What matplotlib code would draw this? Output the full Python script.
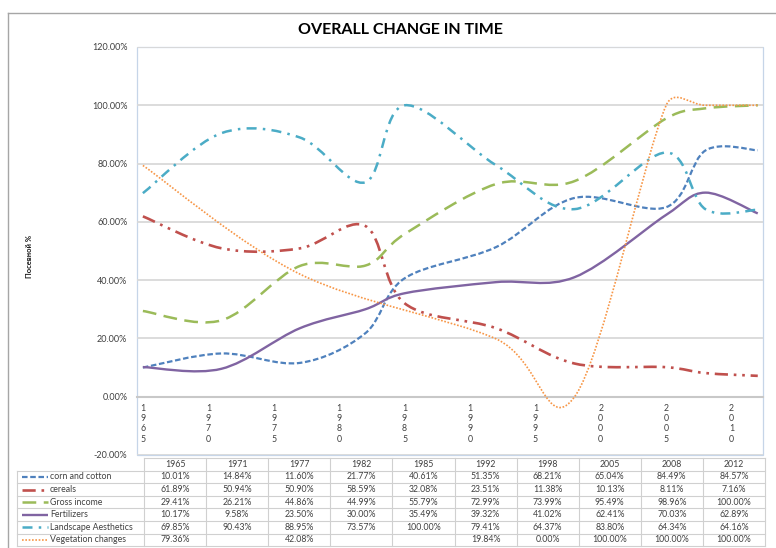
import numpy as np
import matplotlib
matplotlib.use('Agg')
import matplotlib.pyplot as plt
from matplotlib.path import Path
from matplotlib.patches import PathPatch, Rectangle
from matplotlib.lines import Line2D
from matplotlib.ticker import FuncFormatter

plt.rcParams['font.family'] = ['Lato', 'DejaVu Sans']

# ---------------- data ----------------
years = [1965, 1971, 1977, 1982, 1985, 1992, 1998, 2005, 2008, 2012]
corn_and_cotton = [10.01, 14.84, 11.60, 21.77, 40.61, 51.35, 68.21, 65.04, 84.49, 84.57]
cereals = [61.89, 50.94, 50.90, 58.59, 32.08, 23.51, 11.38, 10.13, 8.11, 7.16]
gross_income = [29.41, 26.21, 44.86, 44.99, 55.79, 72.99, 73.99, 95.49, 98.96, 100.00]
fertilizers = [10.17, 9.58, 23.50, 30.00, 35.49, 39.32, 41.02, 62.41, 70.03, 62.89]
landscape_aesthetics = [69.85, 90.43, 88.95, 73.57, 100.00, 79.41, 64.37, 83.80, 64.34, 64.16]
vegetation_changes = [79.36, None, 42.08, None, None, 19.84, 0.00, 100.00, 100.00, 100.00]

series_names = ["corn and cotton", "cereals", "Gross income", "Fertilizers",
                "Landscape Aesthetics", "Vegetation changes"]
series_values = [corn_and_cotton, cereals, gross_income, fertilizers,
                 landscape_aesthetics, vegetation_changes]

axis_tick_years = [1965, 1970, 1975, 1980, 1985, 1990, 1995, 2000, 2005, 2010]
y_ticks = [-20, 0, 20, 40, 60, 80, 100, 120]

title = "OVERALL CHANGE IN TIME"
y_label = "Посевной %"

# ---------------- styles ----------------
styles = [
    dict(color="#4F81BD", lw=1.6, ls=(0, (2.5, 1.2))),
    dict(color="#C0504D", lw=1.9, ls=(0, (5, 2.2, 1, 2.2, 1, 2.2))),
    dict(color="#9BBB59", lw=1.8, ls=(0, (5.5, 3))),
    dict(color="#8064A2", lw=1.7, ls="-"),
    dict(color="#4BACC6", lw=1.8, ls=(0, (4, 2.5, 1, 2.5))),
    dict(color="#F79646", lw=1.2, ls=(0, (1, 1))),
]

W, H = 776, 548
fig = plt.figure(figsize=(W / 100, H / 100), dpi=100)

# plot area in pixels
PL, PR, PT, PB = 137, 763, 47, 455
ax = fig.add_axes([PL / W, 1 - PB / H, (PR - PL) / W, (PB - PT) / H])
ax.set_xlim(1964.55, 2012.4)
ax.set_ylim(-20, 120)
ax.set_yticks(y_ticks)
ax.yaxis.set_major_formatter(FuncFormatter(lambda v, p: f"{v:.2f}%"))
ax.set_xticks(axis_tick_years)
ax.set_xticklabels(["\n".join(str(y)) for y in axis_tick_years])
ax.tick_params(axis="both", length=0)
ax.tick_params(axis="y", labelsize=6.5, labelcolor="#404040", pad=7)
ax.tick_params(axis="x", labelsize=6.3, labelcolor="#404040", pad=5)
for lab in ax.get_xticklabels():
    lab.set_linespacing(1.3)
ax.grid(axis="y", color="#D9D9D9", lw=1.3)
ax.set_axisbelow(True)
for s in ["left", "right", "top"]:
    ax.spines[s].set_visible(False)
ax.spines["bottom"].set_position(("data", 0))
ax.spines["bottom"].set_color("#C8C8C8")
ax.spines["bottom"].set_linewidth(1.5)
ax.add_patch(Rectangle((0, 0), 1, 1, transform=ax.transAxes, fill=False,
                       ec="#C6D5E8", lw=0.9, clip_on=False, zorder=0.5))


def excel_smooth_path(ax, xs, ys):
    pts = np.array([(x, y) for x, y in zip(xs, ys) if y is not None], float)
    P = ax.transData.transform(pts)
    n = len(P)
    verts = [P[0]]
    codes = [Path.MOVETO]
    for i in range(n - 1):
        p0 = P[i - 1] if i > 0 else P[i]
        p1 = P[i]
        p2 = P[i + 1]
        p3 = P[i + 2] if i + 2 < n else P[i + 1]
        d02 = np.hypot(*(p2 - p0))
        d12 = np.hypot(*(p2 - p1))
        d13 = np.hypot(*(p3 - p1))
        f1 = f2 = 1 / 6
        if d02 > 0 and d02 / 6 > d12 / 2:
            f1 = d12 / d02 / 2
        if d13 > 0 and d13 / 6 > d12 / 2:
            f2 = d12 / d13 / 2
        c1 = p1 + (p2 - p0) * f1
        c2 = p2 - (p3 - p1) * f2
        verts += [c1, c2, p2]
        codes += [Path.CURVE4] * 3
    vd = ax.transData.inverted().transform(np.array(verts))
    return Path(vd, codes)


for vals, st in zip(series_values, styles):
    path = excel_smooth_path(ax, years, vals)
    ax.add_patch(PathPatch(path, fill=False, edgecolor=st["color"], lw=st["lw"],
                           linestyle=st["ls"], capstyle="butt", joinstyle="round",
                           zorder=3))

# ---------------- overlay (title, frame, table) ----------------
ov = fig.add_axes([0, 0, 1, 1], zorder=-1)
ov.set_xlim(0, W)
ov.set_ylim(H, 0)
ov.axis("off")
ov.patch.set_alpha(0)

ov.plot([8, 8], [13, H], color="#A6A6A6", lw=1)
ov.plot([8, W], [13, 13], color="#A6A6A6", lw=1)

fig.text(400 / W, 1 - 30 / H, title, ha="center", va="center",
         fontsize=11.5, fontweight="bold", color="#000000")
fig.text(29 / W, 1 - 256 / H, y_label, rotation=90, ha="center", va="center",
         fontsize=5.5, fontweight="bold", color="#1A1A1A")

# table
T_LEFT, KEY_R, T_RIGHT, T_TOP, ROW_H = 17, 144, 765, 458, 12.6
ncol = len(years)
col_w = (T_RIGHT - KEY_R) / ncol
nrows = len(series_names) + 1
grid_c = "#D0D0D0"
for r in range(nrows + 1):
    y = T_TOP + r * ROW_H
    x0 = KEY_R if r == 0 else T_LEFT
    ov.plot([x0, T_RIGHT], [y, y], color=grid_c, lw=0.8)
ov.plot([T_LEFT, T_LEFT], [T_TOP + ROW_H, T_TOP + nrows * ROW_H], color=grid_c, lw=0.8)
for c in range(ncol + 1):
    x = KEY_R + c * col_w
    ov.plot([x, x], [T_TOP, T_TOP + nrows * ROW_H], color=grid_c, lw=0.8)

txt_c = "#404040"
for c, yr in enumerate(years):
    ov.text(KEY_R + (c + 0.5) * col_w, T_TOP + 0.5 * ROW_H, str(yr),
            ha="center", va="center", fontsize=6.3, color=txt_c)
for r, (name, vals, st) in enumerate(zip(series_names, series_values, styles)):
    yc = T_TOP + (r + 1.5) * ROW_H
    ov.add_line(Line2D([22, 48], [yc, yc], color=st["color"], lw=st["lw"],
                       linestyle=st["ls"], solid_capstyle="butt", dash_capstyle="butt"))
    ov.text(50, yc, name, ha="left", va="center", fontsize=6.3, color=txt_c)
    for c, v in enumerate(vals):
        if v is None:
            continue
        ov.text(KEY_R + (c + 0.5) * col_w, yc, f"{v:.2f}%",
                ha="center", va="center", fontsize=6.3, color=txt_c)

fig.savefig("out.png", dpi=100)
